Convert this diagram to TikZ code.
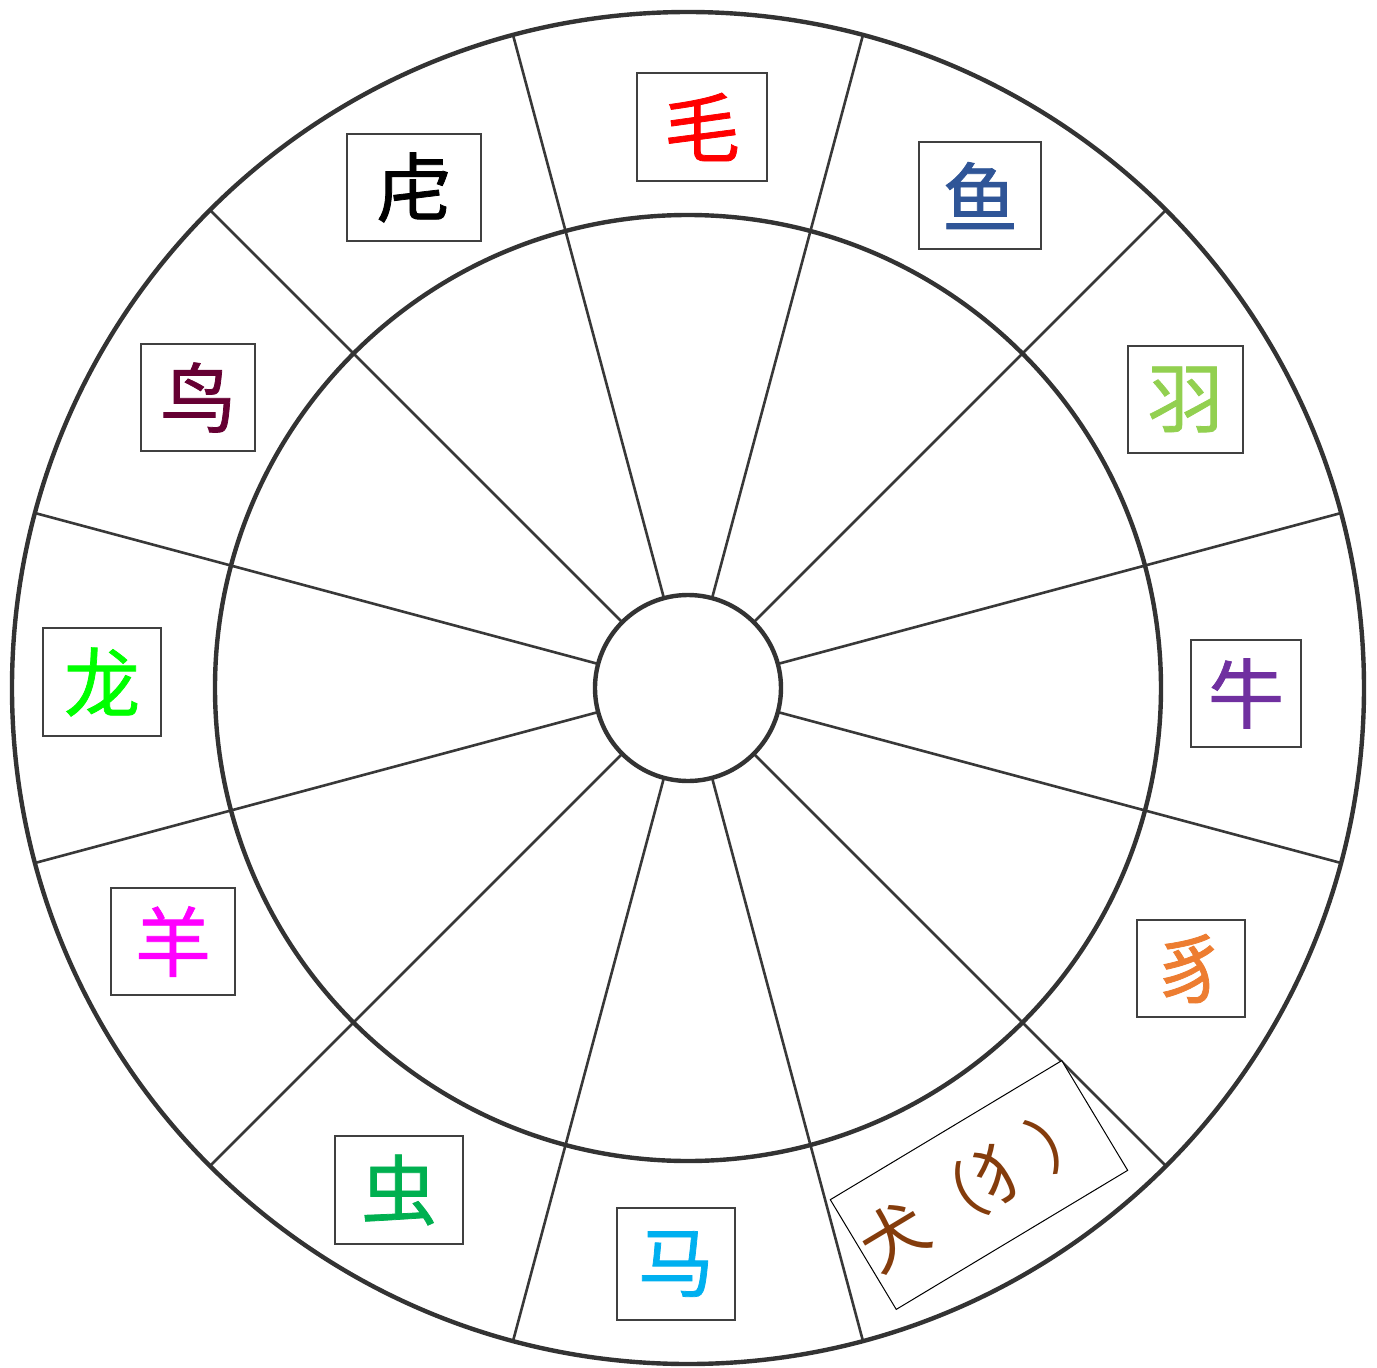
\documentclass[tikz,border=0pt]{standalone}
\usepackage{fontspec}
\newfontfamily\cjk[FakeBold=1]{Noto Sans CJK SC}
\newfontfamily\cjkthin{Noto Sans CJK SC}
\definecolor{cMao}{HTML}{FF0000}
\definecolor{cYu}{HTML}{2F5597}
\definecolor{cYuu}{HTML}{92D050}
\definecolor{cNiu}{HTML}{7030A0}
\definecolor{cZhi}{HTML}{ED7D31}
\definecolor{cQuan}{HTML}{843C0C}
\definecolor{cMa}{HTML}{00B0F0}
\definecolor{cChong}{HTML}{00B050}
\definecolor{cYang}{HTML}{FF00FF}
\definecolor{cLong}{HTML}{00FF00}
\definecolor{cNiao}{HTML}{660033}
\begin{document}
\begin{tikzpicture}[x=0.5pt,y=0.5pt,
  ring/.style={draw=black!80, line width=2.2pt},
  spoke/.style={draw=black!78, line width=1.3pt},
  lbl/.style={draw=black!75, line width=0.7pt, fill=white, inner sep=0pt,
    font=\cjk\fontsize{38}{38}\selectfont}]
\useasboundingbox (-688,-679) rectangle (689,688);
\fill[white] (-688,-679) rectangle (689,688);
\foreach \a in {15,45,...,345} {
  \coordinate (s\a) at (\a:93);
  \coordinate (e\a) at (\a:676);
  \draw[spoke] (s\a) -- (e\a);
}
\draw[ring] (0,0) circle[radius=676];
\draw[ring] (0,0) circle[radius=473];
\draw[ring] (0,0) circle[radius=93];
\node[lbl, text=cMao, minimum width=65pt, minimum height=54pt] (mao) at (14,561) {毛};
\node[lbl, text=cYu, minimum width=61pt, minimum height=53.5pt] (yu) at (292,492.5) {鱼};
\node[lbl, text=cYuu, minimum width=57.5pt, minimum height=53.5pt] (yuu) at (497.5,288.5) {羽};
\node[lbl, text=cNiu, minimum width=55pt, minimum height=53.5pt] (niu) at (558,-5.5) {牛};
\node[lbl, text=cZhi, minimum width=54pt, minimum height=48.5pt] (zhi) at (503,-280.5) {豸};
\node[lbl, text=cQuan, minimum width=135pt, minimum height=64pt, rotate=31, line width=0.5pt, draw=black,
  font=\cjkthin\fontsize{33}{33}\selectfont] (quan) at (291,-497) {犬（犭）};
\node[lbl, text=cMa, minimum width=59pt, minimum height=56pt] (ma) at (-12,-576) {马};
\node[lbl, text=cChong, minimum width=64pt, minimum height=54pt] (chong) at (-289,-502) {虫};
\node[lbl, text=cYang, minimum width=62pt, minimum height=53.5pt] (yang) at (-515,-253.5) {羊};
\node[lbl, text=cLong, minimum width=59pt, minimum height=54pt] (long) at (-586,6) {龙};
\node[lbl, text=cNiao, minimum width=57pt, minimum height=53.5pt] (niao) at (-490,290.5) {鸟};
\node[lbl, text=black, minimum width=67pt, minimum height=53.5pt] (hu) at (-274,500.5) {虍};
\end{tikzpicture}
\end{document}
